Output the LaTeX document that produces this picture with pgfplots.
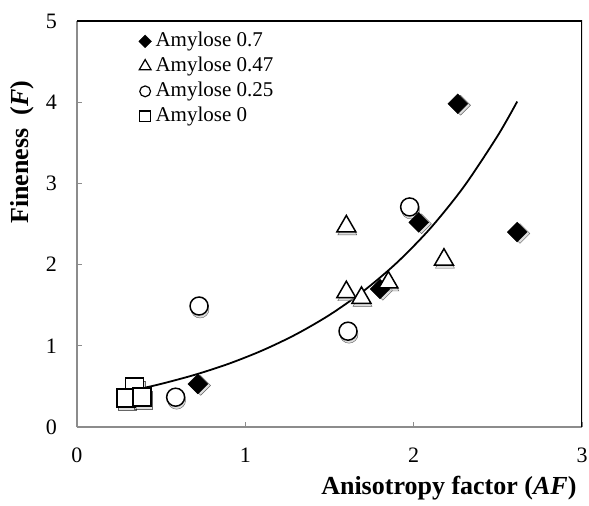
\documentclass[border=0pt]{standalone}
\usepackage{fontspec}
\setmainfont{Liberation Serif}
\usepackage{pgfplots}
\pgfplotsset{compat=1.18}

\definecolor{axisgray}{RGB}{140,140,140}
\definecolor{shade}{RGB}{200,200,200}

\begin{document}
\begin{tikzpicture}
\begin{axis}[
    scale only axis,
    width=505pt, height=406pt,
    xmin=0, xmax=3, ymin=0, ymax=5,
    xtick={0,1,2,3}, ytick={0,1,2,3,4,5},
    axis x line*=bottom, axis y line*=left,
    axis line style={axisgray, line width=1.8pt},
    tick align=inside,
    major tick length=5pt,
    tick style={axisgray, line width=1pt},
    /pgf/number format/assume math mode=true,
    ticklabel style={font=\fontsize{22}{26}\selectfont, inner sep=0pt},
    xticklabel style={anchor=north, yshift=-21pt},
    yticklabel style={anchor=east, xshift=-20pt},
    xlabel={\textbf{Anisotropy factor (\textit{AF})}},
    ylabel={\textbf{Fineness~~(\textit{F})}},
    label style={font=\fontsize{26}{30}\selectfont},
    xlabel style={at={(axis description cs:0.996,-0.150)}, anchor=east},
    ylabel style={at={(axis description cs:-0.109,0.677)}, anchor=center},
    legend style={draw=none, fill=none, inner sep=0pt,
        font=\fontsize{21}{25}\selectfont,
        at={(axis description cs:0.122,0.975)}, anchor=north west,
        row sep=5pt, column sep=3pt,
        nodes={inner sep=1pt, text height=14pt, text depth=4pt}},
    legend cell align=left,
    legend image code/.code={\draw[#1] plot coordinates {(0pt,0pt)};},
]
% legend images
\addlegendimage{only marks, mark=square*, mark size=4.5pt, mark options={rotate=45, fill=black, draw=black}}
\addlegendentry{Amylose 0.7}
\addlegendimage{only marks, mark=triangle, mark size=6.8pt, mark options={draw=black, line width=1.2pt}}
\addlegendentry{Amylose 0.47}
\addlegendimage{only marks, mark=o, mark size=5.4pt, mark options={draw=black, line width=1.2pt}}
\addlegendentry{Amylose 0.25}
\addlegendimage{only marks, mark=square, mark size=5.4pt, mark options={draw=black, line width=1.2pt}}
\addlegendentry{Amylose 0}

% shadows
\addplot[forget plot, only marks, mark=square*, mark size=7pt,
    mark options={rotate=45, fill=shade, draw=none, opacity=0.6, yshift=-3pt, xshift=1pt}]
    coordinates {(0.718,0.53) (1.80,1.70) (2.03,2.52) (2.262,3.98) (2.615,2.40)};
\addplot[forget plot, only marks, mark=triangle*, mark size=11pt,
    mark options={fill=shade, draw=none, opacity=0.6, yshift=-3pt, xshift=1pt}]
    coordinates {(1.60,2.47) (1.60,1.66) (1.69,1.59) (1.85,1.78) (2.18,2.06)};
\addplot[forget plot, only marks, mark=*, mark size=9pt,
    mark options={fill=shade, draw=none, opacity=0.6, yshift=-3pt, xshift=1pt}]
    coordinates {(0.586,0.367) (0.725,1.49) (1.61,1.18) (1.976,2.71)};
\addplot[forget plot, only marks, mark=square*, mark size=9pt,
    mark options={fill=shade, draw=none, opacity=0.6, yshift=-3pt, xshift=1pt}]
    coordinates {(0.343,0.49) (0.29,0.36) (0.385,0.37)};

% Amylose 0.7
\addplot[forget plot, only marks, mark=square*, mark size=7pt,
    mark options={rotate=45, fill=black, draw=black}]
    coordinates {(0.718,0.53) (1.80,1.70) (2.03,2.52) (2.262,3.98) (2.615,2.40)};
% Amylose 0.47
\addplot[forget plot, only marks, mark=triangle*, mark size=11pt,
    mark options={fill=white, draw=black, line width=1.5pt}]
    coordinates {(1.60,2.47) (1.60,1.66) (1.69,1.59) (1.85,1.78) (2.18,2.06)};
% Amylose 0.25
\addplot[forget plot, only marks, mark=*, mark size=9pt,
    mark options={fill=white, draw=black, line width=1.5pt}]
    coordinates {(0.586,0.367) (0.725,1.49) (1.61,1.18) (1.976,2.71)};
% Amylose 0
\addplot[forget plot, only marks, mark=square*, mark size=9pt,
    mark options={fill=white, draw=black, line width=1.5pt}]
    coordinates {(0.343,0.49) (0.29,0.36) (0.385,0.37)};

% exponential trend line
\addplot[forget plot, black, line width=1.8pt, smooth, no marks] coordinates {
    (0.36,0.464) (0.5,0.531) (0.7,0.643) (0.9,0.778) (1.1,0.942)
    (1.3,1.140) (1.5,1.380) (1.7,1.671) (1.9,2.023) (2.1,2.449)
    (2.3,2.965) (2.5,3.590) (2.615,4.008)
};

\draw[black, line width=1.2pt] (rel axis cs:0,1) -- (rel axis cs:1,1) -- (rel axis cs:1,0);
\end{axis}
\pgfresetboundingbox
\path[use as bounding box] (-77pt,-79pt) rectangle (512pt,427pt);
\end{tikzpicture}
\end{document}
